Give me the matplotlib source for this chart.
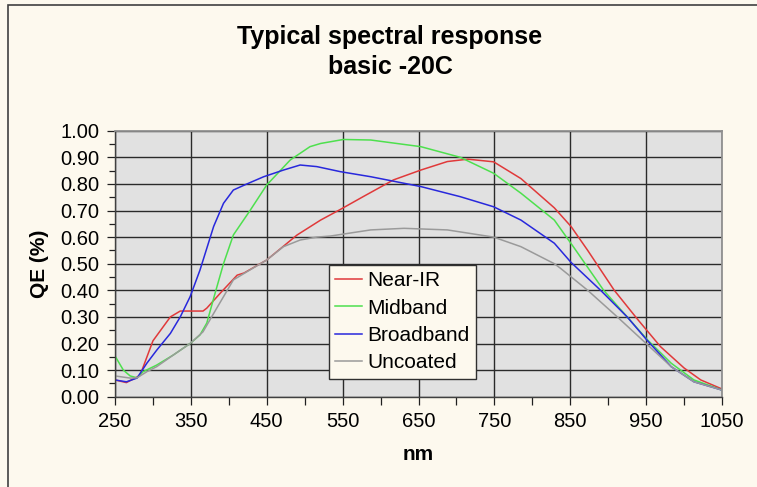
import matplotlib.pyplot as plt
from matplotlib.patches import Rectangle
from matplotlib.ticker import MultipleLocator

plt.rcParams['font.family'] = ['Liberation Sans', 'DejaVu Sans']

# wavelengths (nm) and QE values
nir_nm = [250, 265, 283, 300, 323, 336, 366, 371, 389, 411, 420, 450, 490, 521, 547,
          577, 617, 653, 688, 715, 749, 785, 829, 851, 873, 908, 939, 969, 1000, 1022, 1050]
nir_qe = [0.063, 0.053, 0.08, 0.21, 0.30, 0.322, 0.322, 0.333, 0.39, 0.457, 0.465, 0.514, 0.608, 0.664, 0.704,
          0.752, 0.815, 0.852, 0.884, 0.893, 0.883, 0.82, 0.71, 0.64, 0.55, 0.40, 0.29, 0.188, 0.108, 0.063, 0.029]

mid_nm = [250, 261, 270, 279, 287, 305, 327, 349, 362, 371, 382, 393, 406, 428, 450, 481, 507,
          521, 551, 587, 653, 705, 749, 785, 829, 855, 894, 925, 952, 983, 1013, 1050]
mid_qe = [0.153, 0.10, 0.078, 0.071, 0.094, 0.119, 0.157, 0.20, 0.232, 0.277, 0.39, 0.50, 0.608, 0.70, 0.796, 0.89, 0.94,
          0.952, 0.967, 0.965, 0.94, 0.90, 0.84, 0.765, 0.664, 0.56, 0.40, 0.30, 0.213, 0.126, 0.063, 0.025]

broad_nm = [250, 265, 279, 292, 305, 323, 336, 349, 362, 380, 393, 406, 424, 446, 472, 494,
            516, 547, 587, 653, 705, 749, 785, 829, 851, 890, 925, 951, 983, 1013, 1050]
broad_qe = [0.063, 0.056, 0.07, 0.126, 0.175, 0.238, 0.30, 0.376, 0.476, 0.64, 0.727, 0.777, 0.80, 0.827, 0.852, 0.871,
            0.865, 0.846, 0.827, 0.79, 0.752, 0.714, 0.664, 0.577, 0.505, 0.40, 0.30, 0.213, 0.113, 0.056, 0.025]

unc_nm = [250, 270, 279, 292, 305, 327, 349, 366, 380, 393, 406, 424, 450, 472, 494, 516,
          534, 587, 631, 688, 749, 785, 829, 837, 873, 912, 950, 983, 1013, 1050]
unc_qe = [0.078, 0.07, 0.071, 0.094, 0.113, 0.157, 0.20, 0.244, 0.313, 0.376, 0.439, 0.47, 0.514, 0.564, 0.589, 0.60,
          0.604, 0.627, 0.633, 0.627, 0.60, 0.564, 0.50, 0.483, 0.40, 0.30, 0.20, 0.113, 0.056, 0.025]

x_ticks = [250, 350, 450, 550, 650, 750, 850, 950, 1050]
y_ticks = [0.0, 0.1, 0.2, 0.3, 0.4, 0.5, 0.6, 0.7, 0.8, 0.9, 1.0]

bg = '#FDF9EE'
fig = plt.figure(figsize=(7.57, 4.87), dpi=100, facecolor=bg)
fig.patches.append(Rectangle((8 / 757, -0.1), 1.2, 1 - 5 / 487 + 0.1, transform=fig.transFigure,
                             fill=False, edgecolor='#404040', linewidth=1.2))

ax = fig.add_axes([115 / 757, 1 - 396.7 / 487, 607 / 757, 266 / 487])
ax.set_facecolor('#E1E1E1')

ax.plot(nir_nm, nir_qe, color='#E0393A', lw=1.1, label='Near-IR')
ax.plot(mid_nm, mid_qe, color='#4EE04E', lw=1.1, label='Midband')
ax.plot(broad_nm, broad_qe, color='#2828DC', lw=1.1, label='Broadband')
ax.plot(unc_nm, unc_qe, color='#9A9A9A', lw=1.1, label='Uncoated')

ax.set_xlim(250, 1050)
ax.set_ylim(0, 1.0)
ax.set_xticks(x_ticks)
ax.set_yticks(y_ticks)
ax.set_yticklabels(['%.2f' % v for v in y_ticks])
ax.xaxis.set_minor_locator(MultipleLocator(50))
ax.yaxis.set_minor_locator(MultipleLocator(0.05))
ax.tick_params(axis='both', which='major', labelsize=14.5, length=6, width=0.9, color='#202020',
               direction='out', pad=5)
ax.tick_params(axis='x', which='minor', length=6, width=0.9, color='#202020')
ax.tick_params(axis='y', which='minor', length=4, width=0.9, color='#202020')

ax.grid(True, which='major', color='#2A2A2A', linewidth=1.0)
ax.set_axisbelow(True)
for side in ['top', 'right']:
    ax.spines[side].set_color('#909090')
    ax.spines[side].set_linewidth(1.3)
for side in ['left', 'bottom']:
    ax.spines[side].set_color('#404040')
    ax.spines[side].set_linewidth(1.0)

ax.set_xlabel('nm', fontsize=15, fontweight='bold', labelpad=10)
ax.set_ylabel('QE (%)', fontsize=15, fontweight='bold', labelpad=8)

leg = ax.legend(loc='upper left', bbox_to_anchor=((329 - 115) / 607, (396.7 - 265) / 266),
                fontsize=15, frameon=True, fancybox=False, handlelength=1.3, handletextpad=0.25,
                labelspacing=0.4, borderpad=0.3, borderaxespad=0)
leg.get_frame().set_facecolor(bg)
leg.get_frame().set_edgecolor('#303030')
leg.get_frame().set_alpha(1)
leg.get_frame().set_linewidth(1.0)

fig.text(390 / 757, 1 - 37 / 487, 'Typical spectral response', ha='center', va='center',
         fontsize=18, fontweight='bold')
fig.text(390 / 757, 1 - 67 / 487, 'basic -20C', ha='center', va='center',
         fontsize=18, fontweight='bold')

fig.savefig('out.png', dpi=100, facecolor=bg)
